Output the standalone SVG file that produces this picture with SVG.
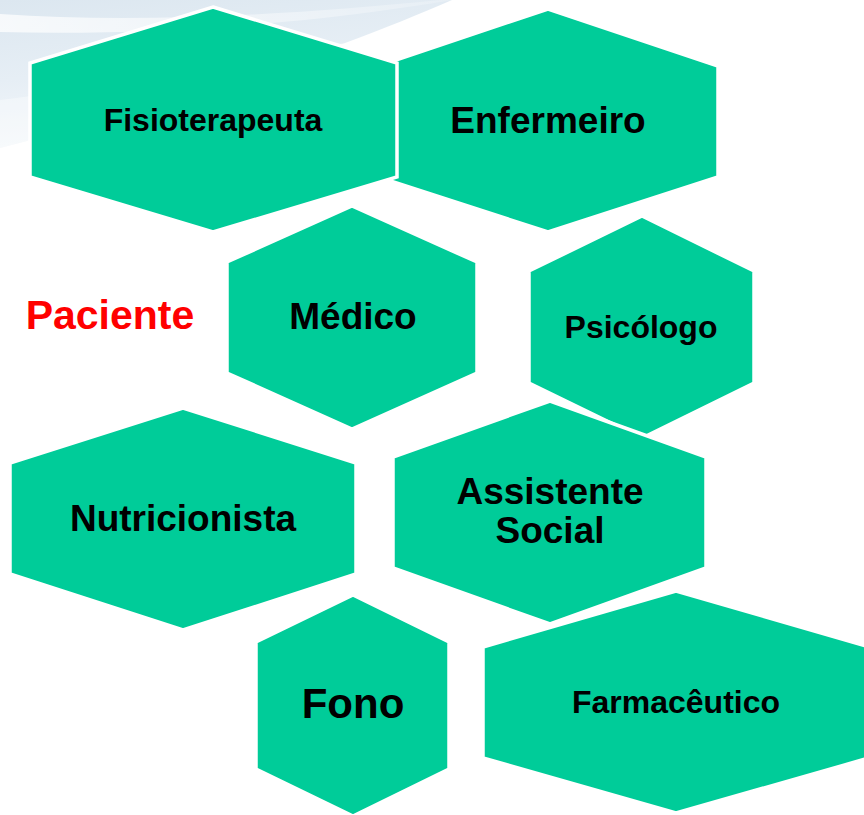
<svg xmlns="http://www.w3.org/2000/svg" width="864" height="815" viewBox="0 0 864 815">
<defs>
<linearGradient id="bg" x1="0" y1="0" x2="0.3" y2="1">
<stop offset="0" stop-color="#dce7f0"/>
<stop offset="0.5" stop-color="#e6eef5"/>
<stop offset="1" stop-color="#f6f9fb"/>
</linearGradient>
<linearGradient id="band" x1="0" y1="0" x2="1" y2="0">
<stop offset="0" stop-color="#ffffff" stop-opacity="0.75"/>
<stop offset="1" stop-color="#ffffff" stop-opacity="0.2"/>
</linearGradient>
<style>
.hex{fill:#00CC99;stroke:#ffffff;stroke-width:3.5;stroke-linejoin:miter}
.t{font-family:"Liberation Sans",Arial,sans-serif;font-weight:bold;fill:#000000;text-anchor:middle}
</style>
</defs>
<rect x="0" y="0" width="864" height="815" fill="#ffffff"/>
<path d="M0,0 L452,0 C420,14 385,28 345,43 C240,80 120,118 0,148 Z" fill="url(#bg)"/>
<path d="M0,14 C140,24 300,14 440,0 L452,0 C310,24 150,36 0,32 Z" fill="url(#band)"/>
<path d="M0,100 C120,85 250,55 345,43 C240,80 120,118 0,148 Z" fill="#ffffff" opacity="0.35"/>
<g id="connectors"></g>
<g id="enfermeiro"><polygon class="hex" points="548,9 718,66 718,177 548,232 378,177 378,66"/><text class="t" x="548" y="133" font-size="37">Enfermeiro</text></g>
<g id="fisioterapeuta"><polygon class="hex" points="213,7 397,63 397,177 213,232 30,177 30,63"/><text class="t" x="213" y="131" font-size="32">Fisioterapeuta</text></g>
<g id="paciente"><text x="110" y="329" font-family="Liberation Sans, Arial, sans-serif" font-weight="bold" font-size="41" fill="#FF0000" text-anchor="middle">Paciente</text></g>
<g id="medico"><polygon class="hex" points="352,206 477,262 477,373 352,429 227,373 227,262"/><text class="t" x="353" y="329" font-size="37">Médico</text></g>
<g id="psicologo"><polygon class="hex" points="642,216 754,271 754,383 642,438 529,383 529,271"/><text class="t" x="641" y="338" font-size="32">Psicólogo</text></g>
<g id="nutricionista"><polygon class="hex" points="183,408 356,463 356,574 183,630 10,574 10,463"/><text class="t" x="183" y="531" font-size="37">Nutricionista</text></g>
<g id="assistente-social"><polygon class="hex" points="550,401 706,457 706,568 550,624 393,568 393,457"/><text class="t" x="550" y="504" font-size="37">Assistente</text><text class="t" x="550" y="543" font-size="37">Social</text></g>
<g id="fono"><polygon class="hex" points="353,595 449,642 449,769 353,816 256,769 256,642"/><text class="t" x="353" y="718" font-size="42">Fono</text></g>
<g id="farmaceutico"><polygon class="hex" points="676,591 869,647 869,758 676,813 483,758 483,647"/><text class="t" x="676" y="713" font-size="32">Farmacêutico</text></g>
</svg>
